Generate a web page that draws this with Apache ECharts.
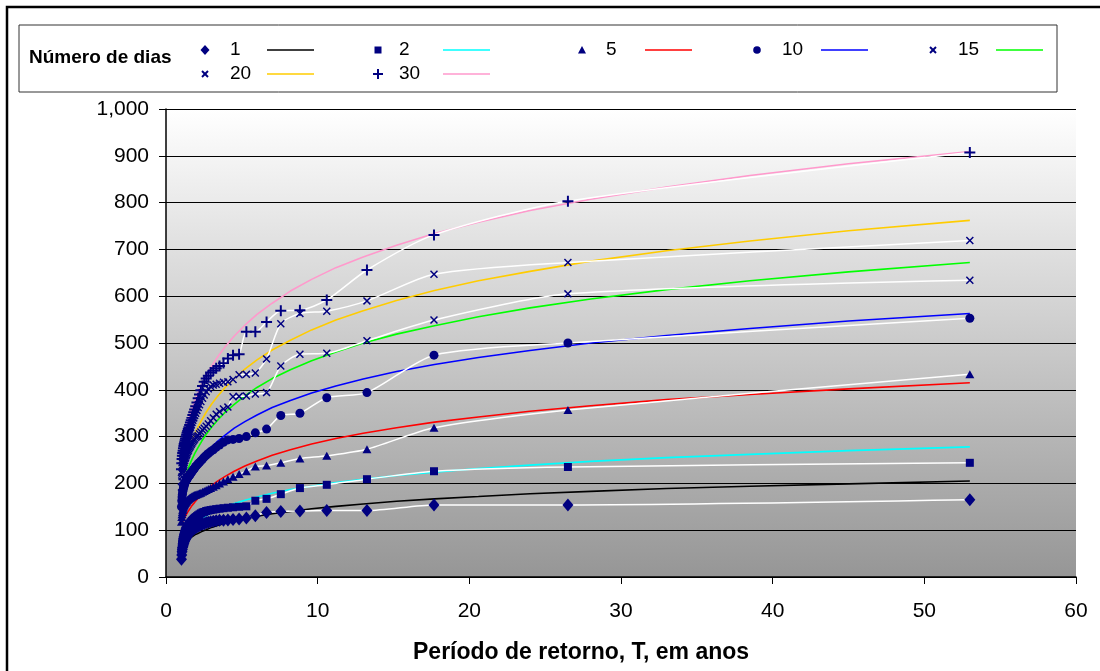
<!DOCTYPE html>
<html><head><meta charset="utf-8">
<script src="https://cdn.jsdelivr.net/npm/echarts@6/dist/echarts.min.js"></script>
<style>html,body{margin:0;padding:0;background:#fff}#c{width:1100px;height:671px}</style>
</head><body><div id="c"></div>
<script>
// Return periods (years) of the observed, ranked values
const T_OBS = [53,26.5,17.67,13.25,10.6,8.83,7.57,6.63,5.89,5.3,4.82,4.42,4.08,3.79,3.53,3.31,3.12,2.94,2.79,2.65,2.52,2.41,2.3,2.21,2.12,2.04,1.96,1.89,1.83,1.77,1.71,1.66,1.61,1.56,1.51,1.47,1.43,1.39,1.36,1.33,1.29,1.26,1.23,1.2,1.18,1.15,1.13,1.1,1.08,1.06,1.04,1.02];
// Observed values per number of days
const obs1  = [165,154,154,142,142,141,140,138,131,126,124,123,122,121,121,120,119,118,117,116,114,113,112,110,109,107,106,104,103,101,100,98,97,95,93,91,89,87,85,83,81,79,77,75,72,69,66,63,59,54,47,38];
const obs2  = [244,235,226,209,197,190,177,167,163,151,150,149,148,147,146,145,144,143,142,141,139,138,136,134,132,130,128,126,124,122,120,118,116,114,112,110,108,106,104,102,100,98,95,92,89,86,83,79,75,70,64,56];
const obs5  = [433,357,319,273,259,253,244,238,236,226,220,214,209,204,200,196,193,190,188,186,184,182,180,179,178,177,176,175,174,173,172,171,170,169,167,166,165,164,162,161,159,158,156,154,152,149,146,143,139,134,128,118];
const obs10 = [553,500,474,394,383,350,345,316,308,300,296,294,293,288,282,277,272,268,264,260,256,252,248,245,242,239,236,233,230,228,225,223,220,218,216,214,212,210,208,206,204,202,199,196,193,190,186,182,177,171,163,150];
const obs15 = [634,605,549,505,478,476,451,394,391,387,386,385,363,359,353,348,340,334,327,322,318,314,310,306,302,300,298,295,292,289,286,283,280,277,274,271,268,265,262,259,256,253,249,245,241,237,232,227,221,214,205,192];
const obs20 = [719,672,647,590,568,563,541,466,436,433,432,422,417,416,414,412,410,407,402,396,389,382,375,368,362,356,350,345,340,335,330,325,320,316,312,308,304,300,296,292,288,284,280,276,272,267,262,257,251,244,236,224];
const obs30 = [907,803,731,656,592,570,569,545,524,524,476,474,467,457,451,446,441,437,430,424,417,408,399,390,382,373,365,358,352,346,340,335,330,325,320,316,312,308,304,300,296,292,288,284,280,275,270,265,259,252,243,230];
// Fitted curves, read at these return periods
const T_FIT = [1.02,1.06,1.12,1.2,1.3,1.42,1.56,1.72,1.9,2.1,2.35,2.65,3,3.4,3.9,4.5,5.2,6,7,8.2,9.6,11.2,13,15.2,17.7,20.6,24,28,33,38.5,45,53];
const fit1  = [68,70,72,74,77,80,83,86,90,93,97,101,106,110,115,120,125,130,135,140,146,151,156,162,167,172,178,183,189,194,199,205];
const fit2  = [85,86,89,92,96,101,105,110,115,120,125,131,137,144,150,157,164,171,179,187,194,202,209,217,224,232,239,247,255,262,270,278];
const fit5  = [113,116,120,125,131,138,145,153,160,168,176,186,195,205,215,226,237,248,260,272,284,296,307,319,331,342,354,366,379,390,402,415];
const fit10 = [170,174,179,186,194,203,212,222,232,242,253,265,277,290,303,318,332,346,362,377,393,408,423,439,454,469,484,500,516,531,547,563];
const fit15 = [187,192,199,207,217,228,240,252,264,276,290,305,320,335,352,369,387,405,424,443,462,481,500,519,537,556,575,594,614,633,652,672];
const fit20 = [221,226,234,243,254,266,279,292,306,320,335,352,369,386,405,424,444,464,485,506,528,549,569,591,612,633,653,675,697,718,740,762];
const fit30 = [277,283,292,303,316,330,345,361,377,393,411,430,450,470,492,515,538,561,585,611,636,661,684,709,734,758,783,807,833,858,883,909];
const seriesNames = ['1','2','5','10','15','20','30'];
const legendTitle = 'Número de dias';
const xTitle = 'Período de retorno, T, em anos';

const OBS = [obs1,obs2,obs5,obs10,obs15,obs20,obs30];
const FIT = [fit1,fit2,fit5,fit10,fit15,fit20,fit30];
const FIT_COLORS = ['#000000','#00FFFF','#FF0000','#0000FF','#00FF00','#FFCC00','#FF99CC'];
const NAVY = '#000080';
const SYM_X = 'path://M0,1.3L1.3,0L5,3.7L8.7,0L10,1.3L6.3,5L10,8.7L8.7,10L5,6.3L1.3,10L0,8.7L3.7,5Z';
const SYM_PLUS = 'path://M4.1,0H5.9V4.1H10V5.9H5.9V10H4.1V5.9H0V4.1H4.1Z';
const SYMBOLS = ['diamond','rect','triangle','circle',SYM_X,SYM_X,SYM_PLUS];
const SIZES = [[11,13],8,[9,8],9,8,8,11];
const FONT = 'Liberation Sans, Arial, sans-serif';

const series = [];
FIT.forEach((f,k)=>{
  series.push({type:'line', name:'fit'+seriesNames[k], data:T_FIT.map((t,i)=>[t,f[i]]),
    showSymbol:false, symbol:'none', smooth:false, z:2, silent:true,
    lineStyle:{color:FIT_COLORS[k], width:1.6}});
});
OBS.forEach((o,k)=>{
  series.push({type:'line', name:seriesNames[k], data:T_OBS.map((t,i)=>[t,o[i]]),
    symbol:SYMBOLS[k], symbolSize:SIZES[k], showAllSymbol:true, smooth:0.25, z:3, silent:true,
    itemStyle:{color:NAVY, borderWidth:0},
    lineStyle:{color:'#FFFFFF', width:1.5}});
});

// legend graphic (layout)
const colMarker = [205,378,582,757,933];
const colLabel = [230,399,606,782,958];
const colLine = [267,443,645,821,996];
const rowY = [50,74];
const legendChildren = [];
legendChildren.push({type:'rect', shape:{x:19,y:25,width:1038,height:67}, style:{fill:'#fff', stroke:'#333', lineWidth:1}});
legendChildren.push({type:'text', x:29, y:58, style:{text:legendTitle, font:'bold 19px '+FONT, fill:'#000', textVerticalAlign:'middle'}});
function markerGraphic(k,cx,cy){
  const st = {fill:NAVY};
  if(k===0) return {type:'polygon', shape:{points:[[cx,cy-5],[cx+4.5,cy],[cx,cy+5],[cx-4.5,cy]]}, style:st};
  if(k===1) return {type:'rect', shape:{x:cx-3.5,y:cy-3.5,width:7,height:7}, style:st};
  if(k===2) return {type:'polygon', shape:{points:[[cx,cy-4],[cx+4,cy+3.5],[cx-4,cy+3.5]]}, style:st};
  if(k===3) return {type:'circle', shape:{cx:cx,cy:cy,r:3.8}, style:st};
  if(k===4||k===5) return {type:'group', children:[
    {type:'line', shape:{x1:cx-3,y1:cy-3,x2:cx+3,y2:cy+3}, style:{stroke:NAVY,lineWidth:2}},
    {type:'line', shape:{x1:cx+3,y1:cy-3,x2:cx-3,y2:cy+3}, style:{stroke:NAVY,lineWidth:2}}]};
  return {type:'group', children:[
    {type:'line', shape:{x1:cx-5,y1:cy,x2:cx+5,y2:cy}, style:{stroke:NAVY,lineWidth:2}},
    {type:'line', shape:{x1:cx,y1:cy-5,x2:cx,y2:cy+5}, style:{stroke:NAVY,lineWidth:2}}]};
}
seriesNames.forEach((n,k)=>{
  const r = k<5?0:1, c = k<5?k:k-5;
  const y = rowY[r];
  legendChildren.push(markerGraphic(k,colMarker[c],y));
  legendChildren.push({type:'text', x:colLabel[c], y:y, style:{text:n, font:'19px '+FONT, fill:'#000', textVerticalAlign:'middle'}});
  legendChildren.push({type:'line', shape:{x1:colLine[c],y1:y,x2:colLine[c]+47,y2:y}, style:{stroke:FIT_COLORS[k], lineWidth:1.6}});
});

const chart = echarts.init(document.getElementById('c'), null, {renderer:'canvas'});
chart.setOption({
  animation:false,
  backgroundColor:'#fff',
  grid:{left:166, right:24, top:109, bottom:94, show:true, borderWidth:0,
    backgroundColor:new echarts.graphic.LinearGradient(0,0,0,1,[{offset:0,color:'#FFFFFF'},{offset:1,color:'#969696'}])},
  xAxis:{type:'value', min:0, max:60, interval:10,
    axisLine:{show:true, onZero:false, lineStyle:{color:'#000', width:1.5}},
    axisTick:{show:true, length:7, lineStyle:{color:'#000'}},
    axisLabel:{fontSize:21, fontFamily:FONT, color:'#000', margin:24},
    splitLine:{show:false}},
  yAxis:{type:'value', min:0, max:1000, interval:100,
    axisLine:{show:true, lineStyle:{color:'#000', width:1.5}},
    axisTick:{show:true, length:7, lineStyle:{color:'#000'}},
    axisLabel:{fontSize:21, fontFamily:FONT, color:'#000', margin:17,
      formatter:v=>String(v).replace(/\B(?=(\d{3})+(?!\d))/g, ',')},
    splitLine:{show:true, lineStyle:{color:'#000', width:1}}},
  series:series,
  graphic:[
    {type:'rect', silent:true, shape:{x:7,y:7,width:1300,height:1300}, style:{fill:'none', stroke:'#000', lineWidth:2.5}},
    {type:'group', silent:true, children:legendChildren},
    {type:'text', silent:true, x:413, y:653, style:{text:xTitle, font:'bold 23px '+FONT, fill:'#000', textAlign:'left', textVerticalAlign:'middle'}}
  ]
});
</script></body></html>
